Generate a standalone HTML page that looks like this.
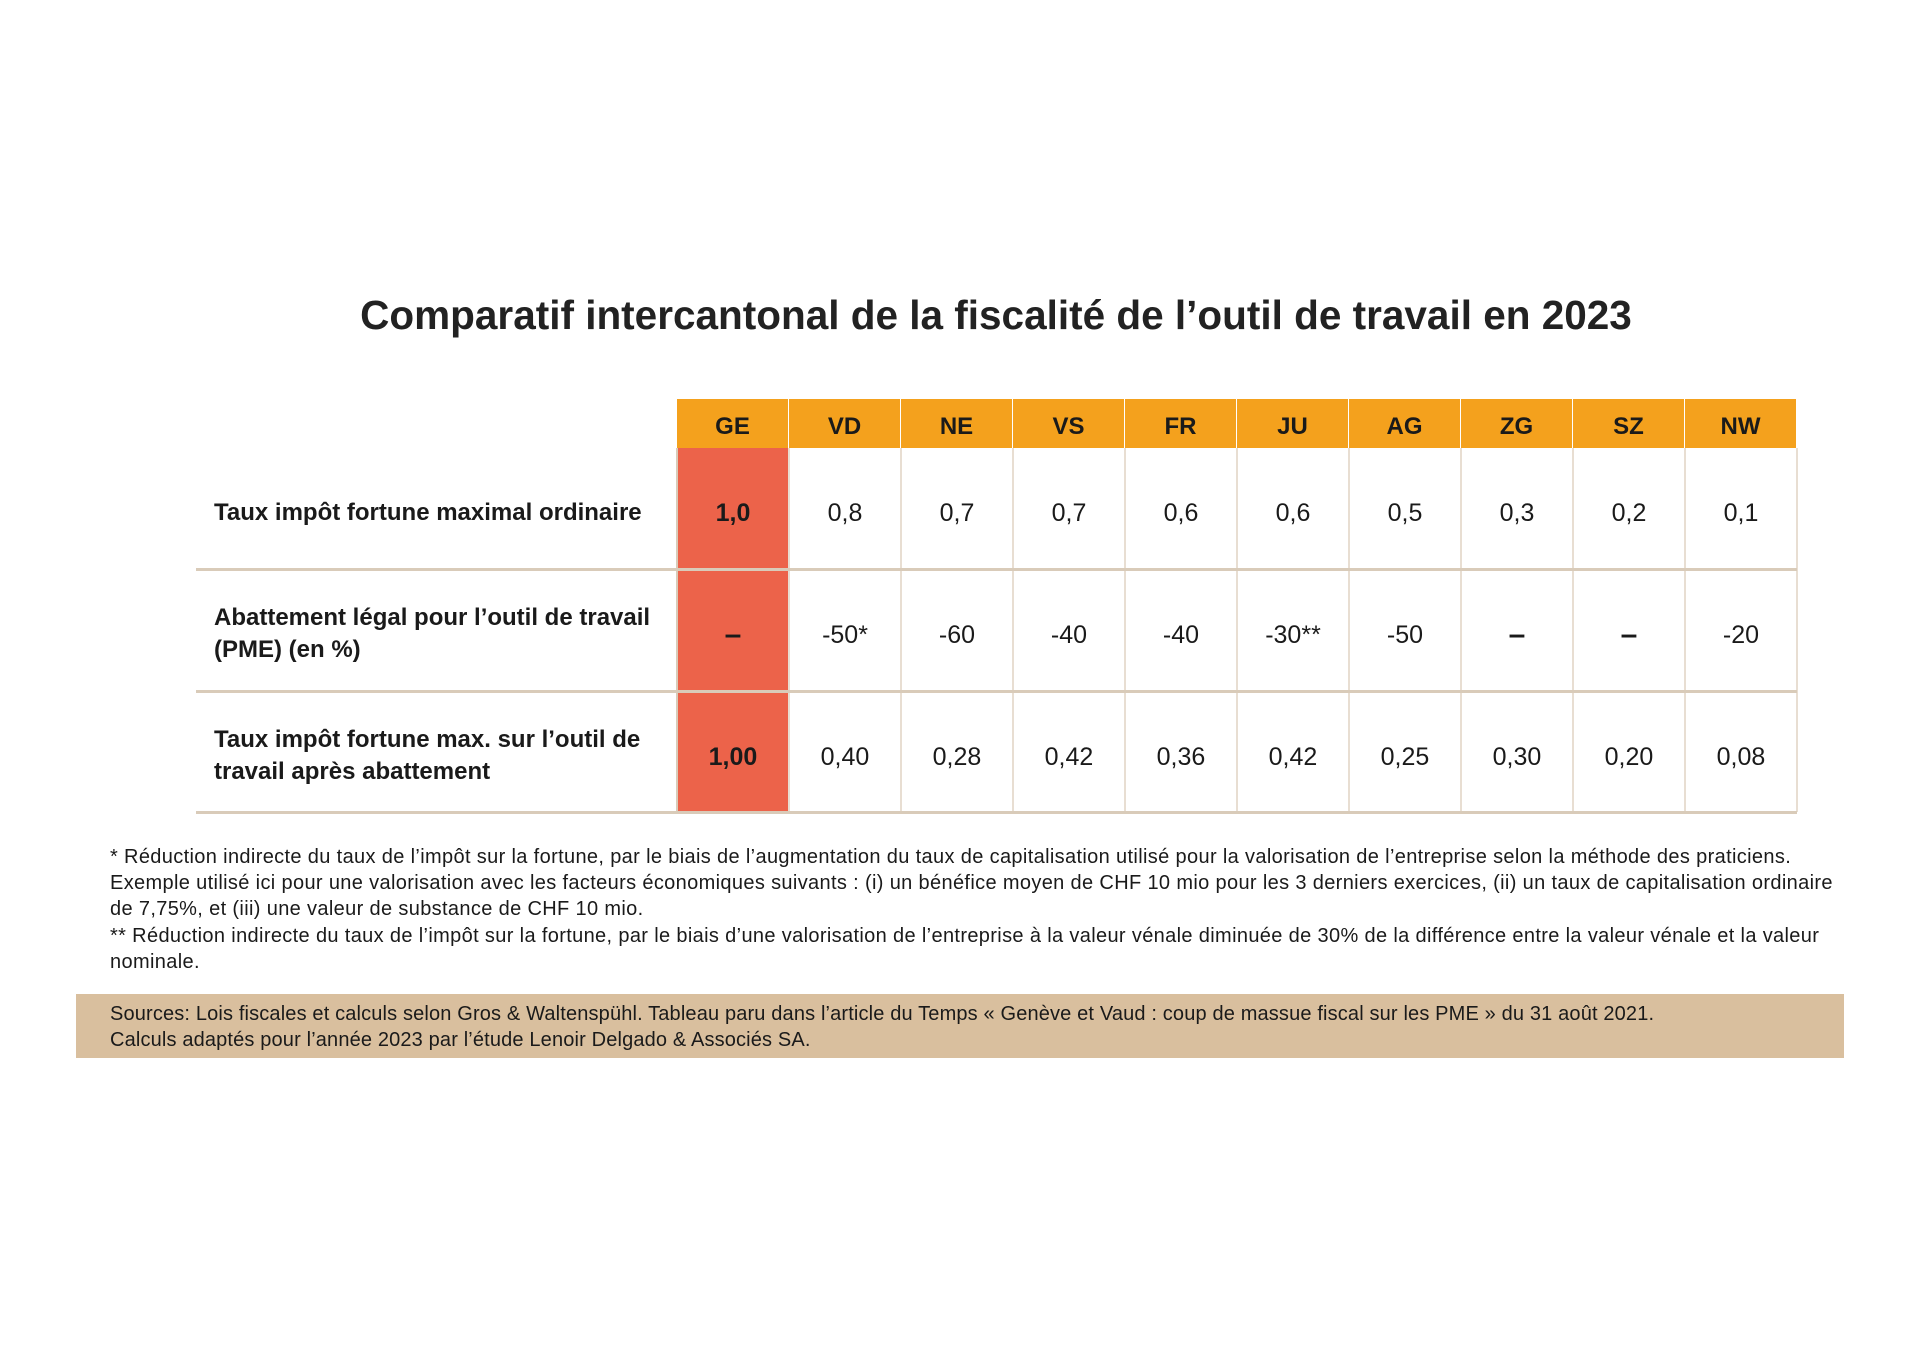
<!DOCTYPE html>
<html><head><meta charset="utf-8"><style>
body{margin:0;width:1920px;height:1358px;background:#fff;font-family:"Liberation Sans",sans-serif;color:#1a1a1a;position:relative;overflow:hidden}
h1{position:absolute;top:292px;left:36px;width:1920px;text-align:center;margin:0;font-size:40.5px;font-weight:bold;color:#222}
.hd{position:absolute;top:399px;height:49px;background:#f4a11d;font-weight:bold;font-size:24px;text-align:center;line-height:56px;color:#1a1a1a}
.ge{position:absolute;left:677px;width:111px;top:448px;height:364px;background:#ec634a}
.vl{position:absolute;top:448px;height:364px;width:2px;background:#e8ded2}
.hl{position:absolute;left:196px;width:1601px;height:3px;background:#d9cbb9}
.c{position:absolute;width:112px;text-align:center;font-size:25px}
.lab{position:absolute;left:214px;font-size:24px;font-weight:bold;line-height:32px}
.fn{position:absolute;left:110px;font-size:20px;letter-spacing:0.35px;line-height:26.2px;white-space:nowrap}
</style></head><body>
<h1>Comparatif intercantonal de la fiscalité de l’outil de travail en 2023</h1>
<div class="ge"></div>
<div id="g"></div>
<script>
var cols=["GE","VD","NE","VS","FR","JU","AG","ZG","SZ","NW"];
var r1=["1,0","0,8","0,7","0,7","0,6","0,6","0,5","0,3","0,2","0,1"];
var r2=["–","-50*","-60","-40","-40","-30**","-50","–","–","-20"];
var r3=["1,00","0,40","0,28","0,42","0,36","0,42","0,25","0,30","0,20","0,08"];
var h="";
for(var i=0;i<10;i++){var x=677+i*112;
h+='<div class="hd" style="left:'+x+'px;width:111px">'+cols[i]+'</div>';
if(i>0)h+='<div class="vl" style="left:'+(x-1)+'px"></div>';
var b=i==0?'font-weight:bold;':'';
[[r1,499],[r2,621],[r3,743]].forEach(function(r){var v=r[0][i];var dash=(v=="–");
h+='<div class="c" style="left:'+x+'px;top:'+(r[1]+(dash?-3:0))+'px;'+(dash?'font-weight:bold;font-size:30px;':b)+'">'+v+'</div>';});
}
h+='<div class="vl" style="left:1796px"></div>';
h+='<div class="vl" style="left:676px;background:#d9cbb9"></div>';
document.getElementById('g').innerHTML=h;
</script>
<div class="hl" style="top:568px"></div>
<div class="hl" style="top:690px"></div>
<div class="hl" style="top:811px"></div>
<div class="lab" style="top:497px">Taux impôt fortune maximal ordinaire</div>
<div class="lab" style="top:602px">Abattement légal pour l’outil de travail<br>(PME) (en %)</div>
<div class="lab" style="top:724px">Taux impôt fortune max. sur l’outil de<br>travail après abattement</div>
<div class="fn" style="top:844px">* Réduction indirecte du taux de l’impôt sur la fortune, par le biais de l’augmentation du taux de capitalisation utilisé pour la valorisation de l’entreprise selon la méthode des praticiens.<br>Exemple utilisé ici pour une valorisation avec les facteurs économiques suivants : (i) un bénéfice moyen de CHF 10 mio pour les 3 derniers exercices, (ii) un taux de capitalisation ordinaire<br>de 7,75%, et (iii) une valeur de substance de CHF 10 mio.<br>** Réduction indirecte du taux de l’impôt sur la fortune, par le biais d’une valorisation de l’entreprise à la valeur vénale diminuée de 30% de la différence entre la valeur vénale et la valeur<br>nominale.</div>
<div style="position:absolute;left:76px;top:994px;width:1768px;height:64px;background:#d9bf9e"></div>
<div class="fn" style="top:1001px;letter-spacing:0.15px">Sources: Lois fiscales et calculs selon Gros &amp; Waltenspühl. Tableau paru dans l’article du Temps « Genève et Vaud : coup de massue fiscal sur les PME » du 31 août 2021.<br>Calculs adaptés pour l’année 2023 par l’étude Lenoir Delgado &amp; Associés SA.</div>
</body></html>
